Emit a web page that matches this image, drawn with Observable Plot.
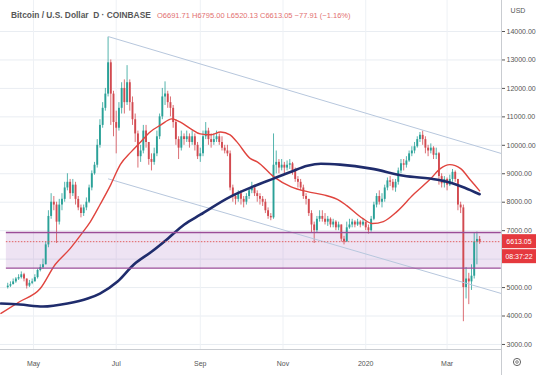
<!DOCTYPE html>
<html><head><meta charset="utf-8">
<script src="https://cdn.jsdelivr.net/npm/d3@7"></script>
<script src="https://cdn.jsdelivr.net/npm/@observablehq/plot@0.6"></script>
<style>
html,body{margin:0;padding:0;background:#fff;}
#chart{width:536px;height:375px;overflow:hidden;}
</style></head><body><div id="chart"></div>
<script>
// ---- Data (2-day candles) ----
const startDate = "2019-04-12";
const stepDays = 2;
const firstOpen = 5000;
const closes = [5050,5100,5200,5300,5350,5450,5300,5050,5150,5200,5350,5600,5700,5800,6500,7500,8000,7900,7300,7900,
8100,8500,8700,8300,8600,8100,7800,7600,7800,8000,8500,9000,9300,10000,10700,11300,11800,12900,11800,10800,
10600,11300,12000,11500,12200,11500,10900,10400,9600,9800,10500,10100,9500,9400,9700,10300,11000,11700,11800,11500,
11300,10800,10200,9900,10300,10200,10300,10100,10300,10000,9600,9700,10300,10500,10200,10100,10200,10300,10100,9900,
9800,9700,8500,8200,8100,8300,8100,8000,8200,8400,8500,8300,8200,8100,8000,7700,7500,7450,9300,9400,
9200,9300,9200,9300,9350,9100,8800,8700,8500,8200,8100,7600,7200,7000,7400,7500,7400,7300,7400,7200,
7300,7100,7200,6700,6600,7100,7200,7300,7200,7300,7200,7300,7100,7000,7400,7900,8200,8000,8100,8500,
8750,8700,8500,8700,9100,9350,9300,9450,9700,9800,9950,10200,10350,10200,9900,9800,9900,9650,9700,8900,
8650,8800,8600,8800,9050,8800,7900,7800,5000,5300,5200,5400,6600,6692,6613.05];
const highs = [5150,5200,5300,5350,5450,5550,5500,5300,5250,5300,5450,5650,5800,6000,6600,7700,8300,8200,8000,8100,
8300,8700,9000,8800,8800,8700,8200,7900,7900,8150,8600,9100,9400,10200,10900,11500,12000,13800,13000,11900,
11200,11500,12200,12300,12800,12300,11700,11100,10500,10000,10700,10700,9900,9700,9900,10500,11100,12000,12230,11900,
11700,11400,10900,10300,10500,10400,10500,10400,10500,10400,10100,9900,10500,10800,10600,10400,10400,10500,10400,10300,
10000,10000,9800,8600,8300,8400,8400,8200,8300,8500,8700,8600,8400,8300,8200,8100,7800,7600,10400,9800,
9500,9500,9400,9450,9500,9400,9200,8900,8800,8600,8300,8100,7700,7300,7500,7700,7700,7600,7500,7450,
7400,7350,7300,7200,6800,7300,7400,7400,7350,7400,7350,7400,7300,7200,7500,8000,8300,8400,8300,8600,
8850,8900,8800,8800,9200,9500,9500,9600,9800,9950,10100,10300,10450,10500,10300,10000,10050,9950,9900,9750,
9000,8900,8850,8950,9150,9100,8800,8000,7900,5700,5500,5800,6900,6950,6795];
const lows = [4950,5000,5100,5150,5250,5300,5200,4950,5000,5100,5200,5300,5550,5650,5800,6400,7400,7700,6550,7200,
7700,8000,8400,8100,8200,7900,7700,7450,7500,7700,7950,8400,8950,9200,9900,10600,11200,11700,10700,10300,
9700,10500,11100,11100,11400,11200,10700,10100,9200,9400,9700,9900,9300,9100,9300,9600,10200,10900,11400,11300,
11000,10600,10000,9500,9800,10000,10100,9900,10000,9800,9500,9400,9600,10200,10000,9900,10000,10100,10000,9800,
9700,9600,8400,8000,7900,8000,7900,7800,7900,8100,8300,8200,8000,7900,7850,7600,7400,7350,7400,9000,
9000,9100,9000,9100,9150,8950,8700,8500,8400,8100,7900,7500,6900,6550,6900,7300,7300,7200,7150,7100,
7100,7000,7000,6600,6500,6600,7050,7100,7100,7150,7100,7150,7000,6880,6950,7350,7800,7900,7800,8000,
8400,8550,8400,8350,8600,9000,9100,9200,9400,9600,9700,9900,10100,10000,9700,9600,9700,9500,9500,8600,
8500,8500,8400,8550,8700,8700,7700,7600,3800,4600,4400,4900,5300,5800,6520.13];

// 50-day moving average (red)
const redDates = ["2019-04-07","2019-04-21","2019-05-06","2019-05-17","2019-05-28","2019-06-05","2019-06-12","2019-06-19","2019-06-27","2019-07-04","2019-07-12","2019-07-19","2019-07-26","2019-08-03","2019-08-11","2019-08-17","2019-08-25","2019-09-01","2019-09-09","2019-09-16","2019-09-23","2019-09-28","2019-10-08","2019-10-13","2019-10-25","2019-11-07","2019-11-19","2019-12-01","2019-12-13","2019-12-18","2019-12-30","2020-01-06","2020-01-14","2020-01-24","2020-02-05","2020-02-18","2020-02-25","2020-03-03","2020-03-11","2020-03-18","2020-03-25"];
const redValues = [4090,4510,4965,5810,6370,6860,7320,7910,8620,9320,9770,10120,10470,10720,10930,10820,10580,10400,10370,10470,10370,10120,9530,9420,8900,8540,8370,8260,8050,7880,7420,7250,7320,7670,8260,8830,9180,9320,9180,8790,8400];
// 200-day moving average (blue)
const blueDates = ["2019-04-07","2019-04-21","2019-05-08","2019-05-26","2019-06-10","2019-06-19","2019-07-02","2019-07-14","2019-07-27","2019-08-08","2019-08-20","2019-09-01","2019-09-23","2019-10-08","2019-10-25","2019-11-07","2019-11-19","2019-11-29","2019-12-13","2020-01-05","2020-01-29","2020-02-23","2020-03-06","2020-03-14","2020-03-25"];
const blueValues = [4440,4404,4333,4440,4614,4790,5210,5810,6260,6720,7210,7560,8190,8510,8830,9070,9280,9350,9320,9180,8930,8790,8650,8510,8280];

// Descending channel
const channelDates = ["2019-06-25","2020-04-10"];
const channelUpper = [13824, 9712];
const channelLower = [8823, 4791];

// Support/resistance zone and last price
const zoneDates = ["2019-04-11","2020-04-10"];
const zoneHigh = 6935;
const zoneLow = 5680;
const lastPrice = 6613.05;
const countdown = "08:37:22";

// Axis ticks (6000 gridline exists but its label is hidden behind the price tag)
const yTicks = [3000,4000,5000,6000,7000,8000,9000,10000,11000,12000,13000,14000];
const yLabelTicks = [3000,4000,5000,7000,8000,9000,10000,11000,12000,13000,14000];
const xTickDates = ["2019-05-01","2019-07-01","2019-09-01","2019-11-01","2020-01-01","2020-03-01"];
const xTickLabels = ["May","Jul","Sep","Nov","2020","Mar"];

const titleText = "Bitcoin / U.S. Dollar  D · COINBASE";
const ohlcText = "O6691.71 H6795.00 L6520.13 C6613.05 −77.91 (−1.16%)";

// ---- Build tables ----
const DAY = 864e5;
const t0 = Date.parse(startDate);
const candles = closes.map((c, i) => ({
  date: new Date(t0 + i * stepDays * DAY),
  open: i ? closes[i - 1] : firstOpen,
  close: c, high: highs[i], low: lows[i]
}));
const redMA = redDates.map((d, i) => ({date: new Date(d), v: redValues[i]}));
const blueMA = blueDates.map((d, i) => ({date: new Date(d), v: blueValues[i]}));
const channels = [
  {x1: new Date(channelDates[0]), x2: new Date(channelDates[1]), y1: channelUpper[0], y2: channelUpper[1]},
  {x1: new Date(channelDates[0]), x2: new Date(channelDates[1]), y1: channelLower[0], y2: channelLower[1]}
];
const xTicks = xTickDates.map(d => new Date(d));
const up = "#2aa198", down = "#d24a50";
const col = d => d.close >= d.open ? up : down;

const plot = Plot.plot({
  width: 536, height: 375,
  marginTop: 0, marginRight: 35, marginBottom: 26, marginLeft: 0,
  style: {background: "#fff", fontFamily: "'Liberation Sans', Arial, sans-serif", fontSize: "7px", color: "#555"},
  x: {type: "utc", domain: [new Date(Date.UTC(2019, 3, 6, 16)), new Date(Date.UTC(2020, 3, 10, 3))],
      ticks: xTicks, tickFormat: d => xTickLabels[xTicks.findIndex(t => +t === +d)], tickSize: 0, tickPadding: 12, label: null},
  y: {domain: [2823, 15090], axis: "right", ticks: yLabelTicks, tickFormat: d => d.toFixed(2), tickSize: 3, tickPadding: 2, label: null},
  marks: [
    Plot.ruleY(yTicks, {stroke: "#e9edf2", strokeWidth: 1}),
    Plot.ruleX(xTicks, {stroke: "#eef1f5", strokeWidth: 1}),
    Plot.rect([0], {x1: new Date(zoneDates[0]), x2: new Date(zoneDates[1]), y1: zoneLow, y2: zoneHigh, fill: "#9b59b6", fillOpacity: 0.17}),
    Plot.ruleX(candles, {x: "date", y1: "low", y2: "high", stroke: col, strokeWidth: 0.8}),
    Plot.ruleX(candles, {x: "date", y1: "open", y2: "close", stroke: col, strokeWidth: 1.9}),
    Plot.link(channels, {x1: "x1", y1: "y1", x2: "x2", y2: "y2", stroke: "#b7c7dd", strokeWidth: 1}),
    Plot.line(redMA, {x: "date", y: "v", stroke: "#e0443e", strokeWidth: 1.4, curve: "monotone-x"}),
    Plot.line(blueMA, {x: "date", y: "v", stroke: "#1f2c6c", strokeWidth: 2.6, curve: "monotone-x"}),
    Plot.ruleY([zoneLow, zoneHigh], {x1: new Date(zoneDates[0]), x2: new Date(zoneDates[1]), stroke: "#9a4d98", strokeWidth: 1.3}),
    Plot.ruleY([lastPrice], {x1: new Date(zoneDates[0]), x2: new Date(zoneDates[1]), stroke: "#e05050", strokeWidth: 0.9, strokeDasharray: "1.5,1.5"})
  ]
});
document.getElementById("chart").appendChild(plot);

const svg = d3.select(plot);
const ys = plot.scale("y");
const py = ys.apply(lastPrice);
// frame lines
svg.append("line").attr("x1", 501.5).attr("x2", 501.5).attr("y1", 0).attr("y2", 375).attr("stroke", "#c9ccd1");
svg.append("line").attr("x1", 0).attr("x2", 501).attr("y1", 349.5).attr("y2", 349.5).attr("stroke", "#c9ccd1");
// last price labels
svg.append("rect").attr("x", 502).attr("y", py - 7).attr("width", 34).attr("height", 14).attr("fill", "#e5393e");
svg.append("text").attr("x", 519).attr("y", py + 2.5).attr("text-anchor", "middle").attr("fill", "#fff")
  .attr("font-size", 7).text(lastPrice.toFixed(2));
svg.append("rect").attr("x", 502).attr("y", py + 8).attr("width", 34).attr("height", 14).attr("fill", "#e5393e");
svg.append("text").attr("x", 519).attr("y", py + 17.5).attr("text-anchor", "middle").attr("fill", "#fff")
  .attr("font-size", 7).text(countdown);
// header: fit each text into the width it occupies in the picture by its font size
function fitText(x, y, txt, width, size, fill, weight) {
  const t = svg.append("text").attr("x", x).attr("y", y).attr("text-anchor", "start")
    .attr("fill", fill).attr("font-weight", weight).attr("font-size", size)
    .attr("font-family", "'Liberation Sans Narrow','Liberation Sans',Arial,sans-serif").text(txt);
  const w = t.node().getComputedTextLength();
  if (w > width) t.attr("font-size", (size * width / w).toFixed(2));
  return t;
}
fitText(11, 18, titleText, 140, 10, "#575757", 600);
fitText(157, 18, ohlcText, 196, 7.5, "#e27070", 400);
svg.append("text").attr("x", 518).attr("y", 13).attr("text-anchor", "middle").attr("fill", "#555").attr("font-size", 7).text("USD");
// settings gear
svg.append("circle").attr("cx", 517).attr("cy", 362).attr("r", 3.6).attr("fill", "none").attr("stroke", "#666").attr("stroke-width", 1);
svg.append("circle").attr("cx", 517).attr("cy", 362).attr("r", 1.3).attr("fill", "none").attr("stroke", "#666").attr("stroke-width", 0.8);
</script></body></html>
